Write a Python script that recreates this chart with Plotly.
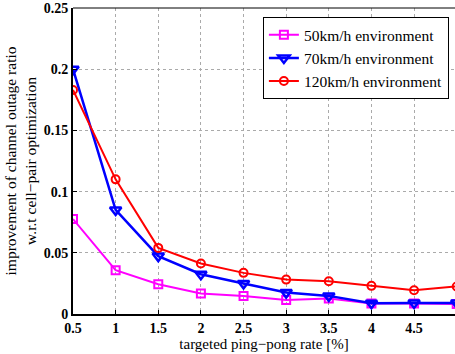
import plotly.graph_objects as go

x_vals = [0.5, 1, 1.5, 2, 2.5, 3, 3.5, 4, 4.5, 5]
y_50 = [0.0776, 0.0358, 0.0243, 0.0167, 0.0148, 0.0115, 0.0126, 0.0085, 0.0085, 0.0082]
y_70 = [0.200, 0.085, 0.0473, 0.0325, 0.0249, 0.0175, 0.0148, 0.0088, 0.0090, 0.0090]
y_120 = [0.183, 0.110, 0.054, 0.0413, 0.0336, 0.0281, 0.0268, 0.0230, 0.0194, 0.0225]
x_ticks = [0.5, 1, 1.5, 2, 2.5, 3, 3.5, 4, 4.5]
y_ticks = [0, 0.05, 0.1, 0.15, 0.2, 0.25]
y_tick_text = ["0", "0.05", "0.1", "0.15", "0.2", "0.25"]

serif = "Times New Roman"

fig = go.Figure()
fig.add_trace(go.Scatter(x=x_vals, y=y_50, mode="lines+markers", name="50km/h environment",
                         line=dict(color="#ff00ff", width=2),
                         marker=dict(symbol="square-open", size=8, color="#ff00ff", line=dict(width=2))))
fig.add_trace(go.Scatter(x=x_vals, y=y_70, mode="lines+markers", name="70km/h environment",
                         line=dict(color="#0000ff", width=2.5),
                         marker=dict(symbol="triangle-down-open", size=10, color="#0000ff", line=dict(width=2.5))))
fig.add_trace(go.Scatter(x=x_vals, y=y_120, mode="lines+markers", name="120km/h environment",
                         line=dict(color="#ff0000", width=2),
                         marker=dict(symbol="circle-open", size=8, color="#ff0000", line=dict(width=2))))

fig.update_layout(
    width=455, height=354,
    margin=dict(l=73, r=0, t=8, b=40),
    plot_bgcolor="white", paper_bgcolor="white",
    font=dict(family=serif, color="black", size=13),
    legend=dict(x=0.984, y=0.97, xanchor="right", yanchor="top",
                bgcolor="white", bordercolor="black", borderwidth=1,
                font=dict(family=serif, size=15.5), itemwidth=30,
                tracegroupgap=0),
    shapes=[dict(type="line", xref="paper", yref="paper", x0=0, x1=1, y0=1, y1=1,
                 line=dict(color="black", width=1))],
)
fig.update_xaxes(range=[0.5, 4.98], tickvals=x_ticks, ticktext=[str(v) for v in x_ticks],
                 showline=True, linecolor="black", linewidth=2,
                 ticks="inside", ticklen=4, tickcolor="black",
                 showgrid=True, gridcolor="#aaaaaa", griddash="dot", gridwidth=1,
                 zeroline=False,
                 tickfont=dict(family=serif, size=14, weight="bold"),
                 title=dict(text="targeted ping\u2212pong rate [%]", font=dict(family=serif, size=15), standoff=2))
fig.update_yaxes(range=[0, 0.25], tickvals=y_ticks, ticktext=y_tick_text,
                 showline=True, linecolor="black", linewidth=2,
                 ticks="inside", ticklen=4, tickcolor="black",
                 showgrid=True, gridcolor="#aaaaaa", griddash="dot", gridwidth=1,
                 zeroline=False,
                 tickfont=dict(family=serif, size=14, weight="bold"),
                 title=dict(text="improvement of channel outage ratio<br>w.r.t cell\u2212pair optimization",
                            font=dict(family=serif, size=15.5), standoff=3))

fig.write_html("out.html", config={"displayModeBar": False},
               post_script="document.body.style.margin='0';document.body.style.overflow='hidden';")
